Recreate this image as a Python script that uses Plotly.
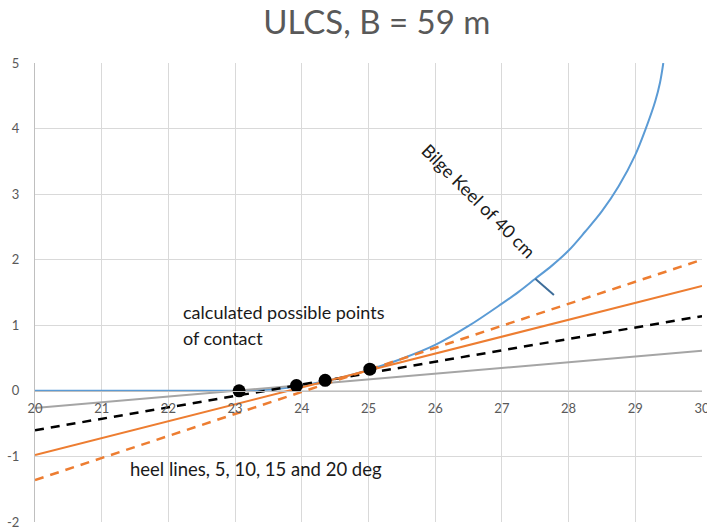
import plotly.graph_objects as go

# Bilge profile (blue curve)
bilge_x = [20, 23.0, 23.25, 23.5, 23.75, 24.0, 24.5, 25.0, 25.5, 26.0, 26.5, 27.0, 27.25, 27.5,
           27.75, 28.0, 28.25, 28.5, 28.75, 29.0, 29.15, 29.3, 29.37, 29.42]
bilge_y = [0, 0, 0.005, 0.02, 0.045, 0.08, 0.18, 0.32, 0.49, 0.70, 0.99, 1.33, 1.51, 1.71,
           1.91, 2.14, 2.43, 2.74, 3.12, 3.60, 3.98, 4.42, 4.70, 5.0]

# Bilge keel marker
keel_x = [27.5, 27.78]
keel_y = [1.71, 1.46]

# Heel lines (5, 10, 15, 20 deg), values at x = 20 and x = 30
heel_x = [20, 30]
heel5_y = [-0.26, 0.61]
heel10_y = [-0.60, 1.14]
heel15_y = [-0.98, 1.60]
heel20_y = [-1.36, 2.00]

# Calculated contact points
contact_x = [23.06, 23.92, 24.35, 25.02]
contact_y = [0.0, 0.08, 0.16, 0.33]

x_ticks = list(range(20, 31))
x_tick_text = [str(v) for v in x_ticks]
y_ticks = list(range(-2, 6))
y_tick_text = [str(v) for v in y_ticks]

FONT = "Lato"
TEXT = "#1a1a1a"
fig = go.Figure()

fig.add_trace(go.Scatter(x=bilge_x, y=bilge_y, mode="lines",
                         line=dict(color="#5b9bd5", width=2, shape="spline", smoothing=1.0)))
fig.add_trace(go.Scatter(x=keel_x, y=keel_y, mode="lines",
                         line=dict(color="#3e6d99", width=2)))
fig.add_trace(go.Scatter(x=heel_x, y=heel5_y, mode="lines",
                         line=dict(color="#a5a5a5", width=2)))
fig.add_trace(go.Scatter(x=heel_x, y=heel10_y, mode="lines",
                         line=dict(color="#000000", width=2.5, dash="9px,7px")))
fig.add_trace(go.Scatter(x=heel_x, y=heel15_y, mode="lines",
                         line=dict(color="#ed7d31", width=2)))
fig.add_trace(go.Scatter(x=heel_x, y=heel20_y, mode="lines",
                         line=dict(color="#ed7d31", width=2.5, dash="9px,7px")))
fig.add_trace(go.Scatter(x=contact_x, y=contact_y, mode="markers",
                         marker=dict(color="#000000", size=13)))

fig.add_annotation(x=22.19, y=1.2, xref="x", yref="y", xanchor="left", yanchor="middle",
                   text="calculated possible points", showarrow=False,
                   font=dict(family=FONT, size=18, color=TEXT))
fig.add_annotation(x=22.19, y=0.8, xref="x", yref="y", xanchor="left", yanchor="middle",
                   text="of contact", showarrow=False,
                   font=dict(family=FONT, size=18, color=TEXT))
fig.add_annotation(x=21.39, y=-1.19, xref="x", yref="y", xanchor="left", yanchor="middle",
                   text="heel lines, 5, 10, 15 and 20 deg", showarrow=False,
                   font=dict(family=FONT, size=18.5, color=TEXT))
fig.add_annotation(x=26.66, y=2.90, xref="x", yref="y",
                   text="Bilge Keel of 40 cm", showarrow=False, textangle=45,
                   font=dict(family=FONT, size=18, color=TEXT))

fig.update_layout(
    width=707, height=528,
    margin=dict(l=35, r=5, t=63, b=6, autoexpand=False),
    paper_bgcolor="white", plot_bgcolor="white",
    showlegend=False,
    title=dict(text="ULCS, B = 59 m", x=0.533, xanchor="center", y=0.958, yanchor="middle",
               automargin=False,
               font=dict(family=FONT, size=33, color="#595959")),
    xaxis=dict(range=[20, 30], tickvals=x_ticks, ticktext=x_tick_text, automargin=False,
               showgrid=True, gridcolor="#d9d9d9", gridwidth=1,
               zeroline=False, showline=True, linecolor="#bfbfbf", linewidth=1,
               anchor="free", position=2 / 7, ticks="", ticklabelstandoff=6,
               ticklabeloverflow="allow",
               tickfont=dict(family=FONT, size=13, color="#595959")),
    yaxis=dict(range=[-2, 5], tickvals=y_ticks, ticktext=y_tick_text, automargin=False,
               showgrid=True, gridcolor="#d9d9d9", gridwidth=1,
               zeroline=False, showline=True, linecolor="#bfbfbf", linewidth=1, ticks="",
               ticklabelstandoff=12, ticklabeloverflow="allow",
               tickfont=dict(family=FONT, size=13, color="#595959")),
)

fig.write_html("out.html")
